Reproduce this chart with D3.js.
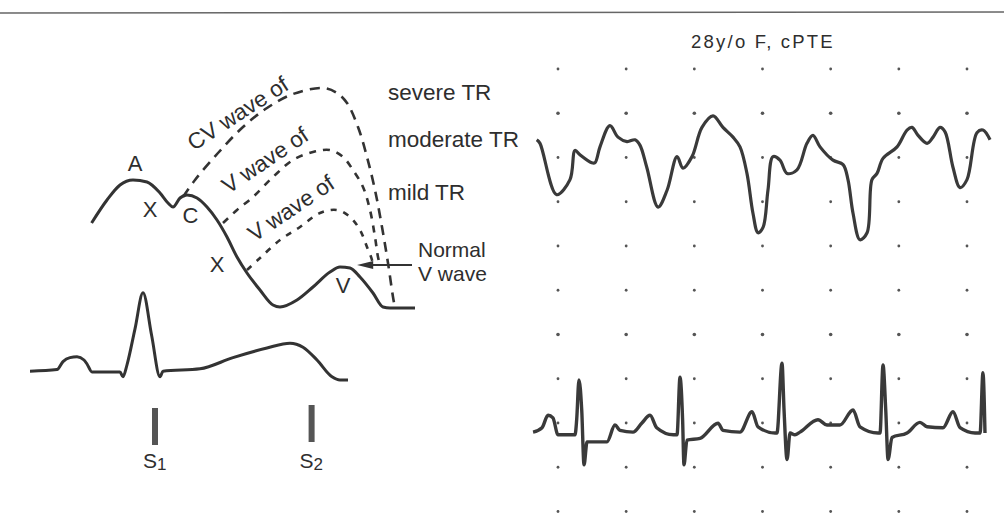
<!DOCTYPE html>
<html>
<head>
<meta charset="utf-8">
<script src="https://cdn.jsdelivr.net/npm/d3@7"></script>
<style>
  html, body { margin: 0; padding: 0; background: #fff; }
  svg { display: block; }
  text { font-family: "Liberation Sans", Arial, Helvetica, sans-serif; fill: #2e2e2e; }
</style>
</head>
<body>
<svg id="fig" width="1004" height="530"></svg>
<script>
// ---------- Schematic jugular venous pulse (time: % of cycle, pressure: arbitrary units) ----------
const jvpNormal = [
  [15.4, 17.4], [19.25, 22.0], [22.5, 25.0], [25.75, 26.0], [29.25, 25.6], [32.5, 23.4],
  [34.5, 21.4], [35.75, 20.6], [37.5, 22.4], [39.25, 23.0], [41.75, 22.4], [44.25, 20.6],
  [46.75, 18.0], [49.25, 14.6], [51.75, 10.6], [54.25, 7.4], [57.5, 4.0], [60.75, 1.0],
  [62.5, 0.6], [66.75, 2.0], [70.75, 4.6], [75, 7.6], [77.5, 8.6], [80, 8.4], [82.5, 6.6],
  [85.75, 3.4], [88.25, 0.6], [90, 0.4], [96.25, 0.4]
];
const cvWaveSevere = [
  [38.25, 22.6], [41.25, 26.0], [47, 31.4], [53.25, 36.6], [59.25, 40.4], [65.75, 43.2],
  [73.25, 44.4], [76.75, 43.4], [79.25, 41.4], [82, 36.6], [84.25, 30.6], [86.25, 24.0],
  [88, 16.6], [89.5, 9.4], [90.75, 2.6], [91.25, 0.4]
];
const vWaveModerate = [
  [48.25, 17.4], [51.75, 20.0], [55.75, 22.6], [60.75, 26.6], [65.75, 30.0], [70.75, 31.6],
  [75, 32.0], [78.25, 30.6], [80.75, 28.0], [83.25, 24.6], [85, 20.0], [86.25, 14.6],
  [87, 10.6], [87.5, 9.0]
];
const vWaveMild = [
  [54.25, 8.0], [57.5, 10.4], [62.5, 14.0], [67.5, 16.6], [72.5, 19.4], [76.75, 20.0],
  [80, 18.6], [82.5, 16.0], [84.25, 12.6], [85.5, 10.0], [85.75, 8.6]
];
// schematic ECG for one cycle (mV)
const ecgSchematic = [
  [0, 0.01], [6.75, 0.03], [8.25, 0.13], [10, 0.18], [11.75, 0.19], [13.5, 0.15], [14.25, 0.1],
  [15.5, 0], [22.5, 0], [23.25, -0.06], [24.25, 0.09], [26.25, 0.54], [28.25, 0.99],
  [30.4, 0.46], [32.5, -0.06], [33.25, 0.01], [42.5, 0.04], [50.75, 0.18], [59.25, 0.30],
  [65, 0.36], [68.25, 0.31], [71.75, 0.15], [75.5, -0.06], [77.5, -0.1], [79.5, -0.1]
];
// heart sounds (time in % of cycle)
const heartSounds = [
  { name: "S", sub: "1", t: 31.25 },
  { name: "S", sub: "2", t: 70.4 }
];
const tracingLabels = ["CV wave of", "V wave of", "V wave of"];
const severityLabels = ["severe TR", "moderate TR", "mild TR"];
const peakLetters = [
  { text: "A", t: 26.25, p: 27.8 },
  { text: "X", t: 30.0, p: 18.6 },
  { text: "C", t: 40.1, p: 17.4 },
  { text: "X", t: 46.75, p: 7.6 },
  { text: "V", t: 78.25, p: 3.4 }
];

// ---------- Patient recording: 28y/o F, cPTE (time in s) ----------
const rapTime = [
  -0.156, -0.132, -0.010, 0.088, 0.125, 0.161, 0.247, 0.271, 0.308, 0.381, 0.440, 0.506,
  0.565, 0.601, 0.651, 0.734, 0.800, 0.873, 0.917, 0.983, 1.056, 1.137, 1.210, 1.284,
  1.335, 1.386, 1.430, 1.467, 1.504, 1.540, 1.577, 1.628, 1.680, 1.753, 1.826, 1.870,
  1.922, 2.017, 2.091, 2.127, 2.164, 2.215, 2.267, 2.303, 2.340, 2.384, 2.487, 2.560,
  2.597, 2.641, 2.707, 2.751, 2.802, 2.839, 2.897, 2.949, 3.000, 3.073, 3.117, 3.169
];
const rapPressure = [
  12.0, 11.6, 5.8, 7.5, 10.8, 10.3, 9.4, 9.4, 11.2, 13.6, 12.3, 11.8,
  12.0, 11.4, 8.9, 4.4, 6.3, 10.1, 8.8, 10.1, 13.4, 14.7, 13.4, 12.3,
  11.2, 8.2, 3.7, 1.5, 2.1, 6.3, 10.1, 9.7, 8.2, 8.6, 11.6, 12.5,
  11.2, 9.7, 9.2, 7.5, 3.7, 0.7, 1.5, 7.5, 8.2, 9.9, 11.2, 13.1,
  13.4, 12.5, 11.6, 12.3, 13.4, 12.9, 8.9, 6.6, 7.5, 12.8, 13.1, 12.0
];
const ecgTime = [
  -0.183, -0.117, -0.073, -0.037, 0.000, 0.125, 0.137, 0.154, 0.174, 0.191, 0.213, 0.359,
  0.418, 0.455, 0.550, 0.614, 0.675, 0.724, 0.846, 0.873, 0.895, 0.914, 0.924, 0.946,
  1.042, 1.174, 1.210, 1.335, 1.423, 1.467, 1.592, 1.606, 1.643, 1.658, 1.680, 1.702,
  1.738, 1.775, 1.907, 1.973, 2.068, 2.164, 2.215, 2.347, 2.362, 2.384, 2.404, 2.421,
  2.450, 2.560, 2.655, 2.707, 2.824, 2.897, 2.949, 3.059, 3.096, 3.117, 3.132
];
const ecgVoltage = [
  0.01, 0.06, 0.20, 0.17, -0.02, -0.02, 0.15, 0.60, 0.26, -0.36, -0.10, -0.10,
  0.09, 0.03, 0.01, 0.11, 0.20, 0.06, -0.02, -0.02, 0.63, 0.15, -0.36, -0.08,
  -0.06, 0.11, 0.03, 0.01, 0.24, 0.07, 0.00, 0.00, 0.79, 0.26, -0.30, 0.00,
  -0.02, 0.01, 0.15, 0.09, 0.09, 0.26, 0.07, 0.00, 0.00, 0.77, 0.26, -0.30,
  -0.05, 0.00, 0.12, 0.07, 0.06, 0.24, 0.06, 0.00, 0.00, 0.68, 0.00
];
const gridColumns = [0, 0.5, 1, 1.5, 2, 2.5, 3];
const gridRows = d3.range(0, 11);
const recordingTitle = "28y/o F, cPTE";

// ---------- drawing ----------
const svg = d3.select("#fig");
const ink = "#333";

// rule across the top of the page
svg.append("line")
  .attr("x1", 0).attr("x2", 1004).attr("y1", 13).attr("y2", 12)
  .attr("stroke", "#666").attr("stroke-width", 1.6);

// left panel scales
const xL = d3.scaleLinear().domain([0, 100]).range([30, 430]);
const yJ = d3.scaleLinear().domain([0, 45]).range([310, 85]);
const yE = d3.scaleLinear().domain([0, 1]).range([372, 292]);

const left = svg.append("g");

left.append("path")
  .datum(jvpNormal)
  .attr("fill", "none").attr("stroke", ink).attr("stroke-width", 3)
  .attr("stroke-linejoin", "round")
  .attr("d", d3.line().x(d => xL(d[0])).y(d => yJ(d[1])).curve(d3.curveMonotoneX));

const dashed = [
  { data: cvWaveSevere, dash: "10,7" },
  { data: vWaveModerate, dash: "7,7" },
  { data: vWaveMild, dash: "6,7" }
];
left.selectAll("path.tr")
  .data(dashed)
  .join("path")
  .attr("class", "tr")
  .attr("fill", "none").attr("stroke", ink).attr("stroke-width", 2.6)
  .attr("stroke-dasharray", d => d.dash)
  .attr("d", d => d3.line().x(p => xL(p[0])).y(p => yJ(p[1])).curve(d3.curveCatmullRom.alpha(0.5))(d.data));

// rotated tracing labels, set just above their dashed curves
const labelPos = [
  { t: 51.9, p: 39.4, a: -33 },
  { t: 58.7, p: 30.0, a: -34 },
  { t: 65.2, p: 20.4, a: -34 }
];
left.selectAll("text.tl")
  .data(tracingLabels)
  .join("text")
  .attr("class", "tl")
  .attr("transform", (d, i) => `translate(${xL(labelPos[i].t)},${yJ(labelPos[i].p)}) rotate(${labelPos[i].a})`)
  .attr("text-anchor", "middle").attr("dy", "0.36em")
  .attr("font-size", 22.5)
  .text(d => d);

// severity labels
left.selectAll("text.sev")
  .data(severityLabels)
  .join("text")
  .attr("class", "sev")
  .attr("x", 388)
  .attr("y", (d, i) => [100, 147, 200][i])
  .attr("font-size", 22.5)
  .text(d => d);

// normal V wave arrow and label
const arrowY = yJ(9);
left.append("line")
  .attr("x1", xL(95.5)).attr("x2", xL(84.5))
  .attr("y1", arrowY).attr("y2", arrowY)
  .attr("stroke", ink).attr("stroke-width", 2);
left.append("path")
  .attr("d", `M${xL(81.75)},${arrowY} L${xL(85.8)},${arrowY - 4} L${xL(85.8)},${arrowY + 4} Z`)
  .attr("fill", ink);
left.append("text").attr("x", 418).attr("y", 257).attr("font-size", 21).text("Normal");
left.append("text").attr("x", 418).attr("y", 281).attr("font-size", 21).text("V wave");

// letters on the venous waveform
left.selectAll("text.pk")
  .data(peakLetters)
  .join("text")
  .attr("class", "pk")
  .attr("x", d => xL(d.t)).attr("y", d => yJ(d.p))
  .attr("text-anchor", "middle")
  .attr("font-size", 22)
  .text(d => d.text);

// schematic ECG
left.append("path")
  .datum(ecgSchematic)
  .attr("fill", "none").attr("stroke", ink).attr("stroke-width", 3)
  .attr("stroke-linejoin", "round")
  .attr("d", d3.line().x(d => xL(d[0])).y(d => yE(d[1])).curve(d3.curveMonotoneX));

// heart sound markers
const hs = left.selectAll("g.hs").data(heartSounds).join("g").attr("class", "hs");
hs.append("rect")
  .attr("x", d => xL(d.t) - 3).attr("width", 6)
  .attr("y", (d, i) => [408, 405][i]).attr("height", 37)
  .attr("fill", "#555");
const hsText = hs.append("text")
  .attr("x", d => xL(d.t) - 12).attr("y", 468)
  .attr("font-size", 21);
hsText.append("tspan").text(d => d.name);
hsText.append("tspan").attr("font-size", 17).attr("dy", 2).text(d => d.sub);

// right panel scales
const xR = d3.scaleLinear().domain([0, 3]).range([558, 967]);
const yGrid = d3.scaleLinear().domain([0, 10]).range([69, 511.5]);
const yP = d3.scaleLinear().domain([0, 20]).range([yGrid(4), yGrid(0)]);
const yV = d3.scaleLinear().domain([0, 1]).range([433, 433 - 2 * (yGrid(1) - yGrid(0))]);

const right = svg.append("g");

right.append("text")
  .attr("x", 763).attr("y", 48)
  .attr("text-anchor", "middle")
  .attr("font-size", 18.5)
  .attr("letter-spacing", 2.2)
  .text(recordingTitle);

// dotted recording grid
const dots = [];
gridRows.forEach(r => gridColumns.forEach(c => dots.push([c, r])));
right.selectAll("circle.g")
  .data(dots)
  .join("circle")
  .attr("class", "g")
  .attr("cx", d => xR(d[0])).attr("cy", d => yGrid(d[1]))
  .attr("r", d => (d[1] === 1 || d[1] === 6) ? 1.8 : 1.4)
  .attr("fill", "#555");

// right atrial pressure tracing
right.append("path")
  .datum(d3.zip(rapTime, rapPressure))
  .attr("fill", "none").attr("stroke", "#3a3a3a").attr("stroke-width", 3.2)
  .attr("stroke-linejoin", "round")
  .attr("d", d3.line().x(d => xR(d[0])).y(d => yP(d[1])).curve(d3.curveCatmullRom.alpha(0.5)));

// ECG tracing
right.append("path")
  .datum(d3.zip(ecgTime, ecgVoltage))
  .attr("fill", "none").attr("stroke", "#3a3a3a").attr("stroke-width", 3.4)
  .attr("stroke-linejoin", "round")
  .attr("d", d3.line().x(d => xR(d[0])).y(d => yV(d[1])).curve(d3.curveMonotoneX));
</script>
</body>
</html>
